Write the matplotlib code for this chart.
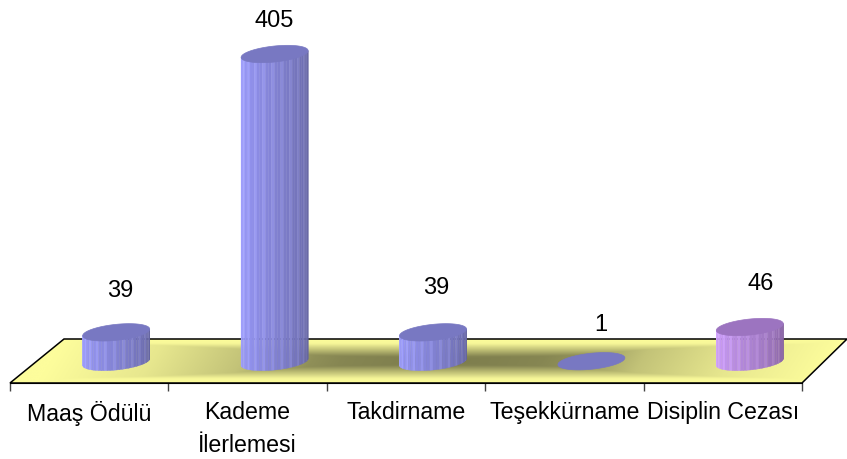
import numpy as np
import matplotlib
matplotlib.use('Agg')
import matplotlib.pyplot as plt
from matplotlib.colors import to_rgb
from matplotlib.patches import Polygon

plt.rcParams['font.family'] = ['Liberation Sans', 'DejaVu Sans']

categories = ['Maaş Ödülü', 'Kademe\nİlerlemesi', 'Takdirname', 'Teşekkürname', 'Disiplin Cezası']
values = [39, 405, 39, 1, 46]

# label nudges in pixels, the original has them hand placed
label_dx = [31, 27, 30, 36, 38]
label_dy = [42, 34, 45, 37, 44]

W, H = 847, 460
AX_LEFT, AX_RIGHT, FLOOR_FRONT, FLOOR_BACK, BACK_LEFT = 10, 802, 384, 340, 64
BASE_Y = 363
PX_PER_VALUE = 0.7605
PX_PER_CAT = (AX_RIGHT - AX_LEFT) / len(categories)


def dx(px):
    return px / PX_PER_CAT


def dy(px):
    return px / PX_PER_VALUE


def blend(c1, c2, t):
    return (1 - t) * np.array(to_rgb(c1)) + t * np.array(to_rgb(c2))


def draw_floor(ax):
    y_lo, y_hi = dy(BASE_Y - FLOOR_FRONT), dy(BASE_Y - FLOOR_BACK)
    x_lo, x_hi = -0.5, 4.5 + dx(W - AX_RIGHT)
    xs, ys = np.meshgrid(np.linspace(x_lo, x_hi, 847), np.linspace(y_lo, y_hi, 90))
    # rectangular path gradient, skewed a bit with the floor
    frac = (ys - y_lo) / (y_hi - y_lo)
    dist = np.abs(xs - dx(27) * (frac - 0.5) - 2.22) * PX_PER_CAT
    v = np.abs(frac - 0.5) / 0.5
    tu = np.interp(dist, [0, 100, 130, 200, 290, 390], [0, 0.08, 0.15, 0.55, 0.83, 1])
    tv = np.interp(v, [0, 0.2, 0.5, 0.8, 1], [0, 0.05, 0.5, 0.95, 1])
    t = np.maximum(tu, tv)
    dark, light = np.array(to_rgb('#7c7c4c')), np.array(to_rgb('#fdfd9c'))
    img = dark + (light - dark) * t[..., None]
    im = ax.imshow(img, extent=(x_lo, x_hi, y_lo, y_hi), origin='lower', aspect='auto',
                   zorder=1, interpolation='bilinear')
    corners = [(-0.5, y_lo), (dx(BACK_LEFT - AX_LEFT) - 0.5, y_hi), (x_hi, y_hi),
               (4.5, y_lo)]
    floor = Polygon(corners, closed=True, facecolor='none', edgecolor='black', lw=1.1,
                    zorder=2, clip_on=False)
    ax.add_patch(floor)
    im.set_clip_path(floor)
    # images get cropped to the axes box otherwise
    im.set_clip_box(ax.figure.bbox)


def draw_cylinder(ax, i, val, side_light, side_dark, top_color):
    cx = i + dx(27)
    a, b, tilt = 33.5, 8.0, 0.1
    if val > 5:
        n = 34
        edges = np.linspace(-1, 1, n + 1)
        # strip angles so strips get narrower at the sides, like a round surface
        edges = np.sin(edges * np.pi / 2)
        for k in range(n):
            xs = np.linspace(edges[k], edges[k + 1], 4)
            low = -b * np.sqrt(np.clip(1 - xs ** 2, 0, 1)) + tilt * a * xs
            top = val * PX_PER_VALUE + tilt * a * xs
            px = np.concatenate([xs, xs[::-1]]) * a
            py = np.concatenate([low, top[::-1]])
            col = blend(side_light, side_dark, (k / (n - 1)) ** 1.1)
            if k % 3 == 1:
                col = np.clip(col + 0.05, 0, 1)
            ax.add_patch(Polygon(np.column_stack([cx + dx(px), dy(py)]), closed=True,
                                 facecolor=col, edgecolor=col, lw=0.3, zorder=3,
                                 clip_on=False))
    th = np.linspace(0, 2 * np.pi, 80)
    ex = a * np.cos(th)
    ey = b * np.sin(th) + tilt * ex + val * PX_PER_VALUE
    ax.add_patch(Polygon(np.column_stack([cx + dx(ex), dy(ey)]), closed=True,
                         facecolor=top_color, edgecolor=top_color, lw=0.5, zorder=4,
                         clip_on=False))


fig = plt.figure(figsize=(W / 100, H / 100), dpi=100)
ax = fig.add_axes([AX_LEFT / W, (H - FLOOR_FRONT) / H, (AX_RIGHT - AX_LEFT) / W, FLOOR_FRONT / H])
ax.patch.set_visible(False)

draw_floor(ax)
ax.set_xlim(-0.5, 4.5)
ax.set_ylim(dy(BASE_Y - FLOOR_FRONT), dy(BASE_Y))

for i, val in enumerate(values):
    if i == 4:
        draw_cylinder(ax, i, val, '#cfa0ff', '#85619f', '#9c74c0')
    else:
        draw_cylinder(ax, i, val, '#9c9cff', '#6464a0', '#7878c2')
    ax.annotate(str(val), (i, val), xytext=(label_dx[i] * 0.72, label_dy[i] * 0.72),
                textcoords='offset points', ha='center', va='center', fontsize=17,
                annotation_clip=False, zorder=6)

for name in ['top', 'left', 'right']:
    ax.spines[name].set_visible(False)
ax.spines['bottom'].set_zorder(5)
ax.yaxis.set_visible(False)
ax.set_xticks(np.arange(-0.5, 5, 1))
ax.set_xticklabels([])
ax.set_xticks(range(len(categories)), minor=True)
ax.set_xticklabels(categories, minor=True, fontsize=16.7, linespacing=1.6)
ax.tick_params(axis='x', which='major', length=5.5, width=1, color='#444444')
ax.tick_params(axis='x', which='minor', length=0, pad=12)

fig.savefig('out.png', dpi=100)
